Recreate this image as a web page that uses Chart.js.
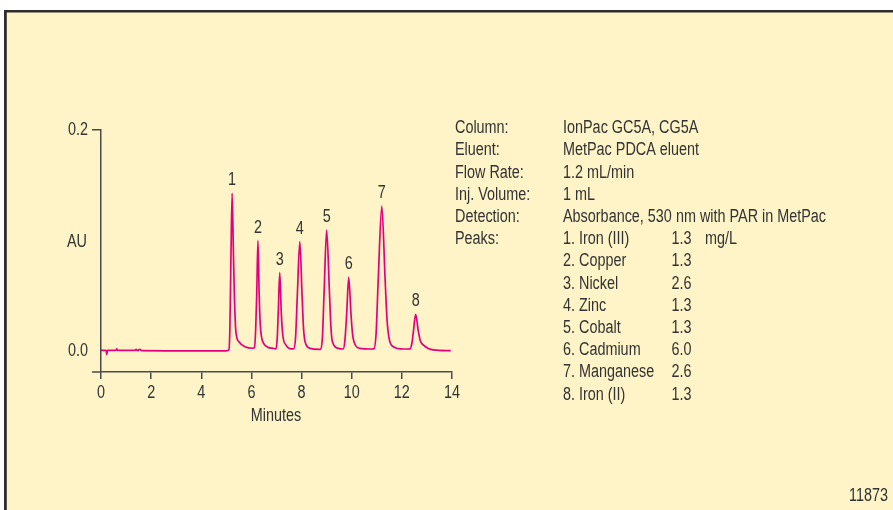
<!DOCTYPE html>
<html>
<head>
<meta charset="utf-8">
<script src="https://cdn.jsdelivr.net/npm/chart.js@4.4.1/dist/chart.umd.min.js"></script>
<style>
  html, body { margin: 0; padding: 0; background: #fff; }
  canvas { display: block; }
</style>
</head>
<body>
<canvas id="chrom" width="893" height="510"></canvas>
<script>
// Trace: time (min) and absorbance (AU)
const traceTime = [
  0.00, 0.20, 0.23, 0.26, 0.60, 0.63, 0.66, 1.35, 1.40, 1.45, 1.55, 1.62, 2.50, 3.50, 4.50, 5.00,
  5.10, 5.14, 5.18, 5.23, 5.28, 5.32, 5.38, 5.50, 5.74, 6.05,
  6.12, 6.17, 6.21, 6.26, 6.31, 6.35, 6.40, 6.50, 6.65, 6.87,
  6.98, 7.03, 7.07, 7.13, 7.19, 7.25, 7.38, 7.60,
  7.68, 7.76, 7.83, 7.93, 8.02, 8.08, 8.14, 8.34, 8.70,
  8.76, 8.83, 8.90, 9.00, 9.11, 9.17, 9.23, 9.47, 9.66,
  9.73, 9.80, 9.88, 9.97, 10.03, 10.09, 10.33, 10.75,
  10.88, 10.97, 11.06, 11.20, 11.33, 11.41, 11.49, 11.66, 12.06,
  12.33, 12.40, 12.46, 12.55, 12.66, 12.74, 12.86, 13.25, 13.95
];
const traceAU = [
  0.0005, 0.0005, -0.003, 0.0005, 0.0005, 0.002, 0.0005, 0.0005, 0.0015, 0.0003, 0.0015, 0.0003, 0.0002, 0.0002, 0.0002, 0.0002,
  0.001, 0.02, 0.08, 0.1427, 0.09, 0.05, 0.0175, 0.0084, 0.0039, 0.0025,
  0.003, 0.02, 0.05, 0.0998, 0.05, 0.025, 0.013, 0.0065, 0.0035, 0.0024,
  0.002, 0.012, 0.035, 0.0709, 0.035, 0.0145, 0.0054, 0.002,
  0.002, 0.012, 0.05, 0.0989, 0.05, 0.02, 0.0084, 0.0024, 0.0015,
  0.0015, 0.012, 0.054, 0.1095, 0.054, 0.022, 0.0084, 0.0024, 0.0018,
  0.01, 0.034, 0.0667, 0.034, 0.016, 0.0084, 0.0024, 0.0018,
  0.002, 0.015, 0.066, 0.1312, 0.066, 0.028, 0.0115, 0.0039, 0.0018,
  0.002, 0.007, 0.0175, 0.0332, 0.0175, 0.009, 0.0054, 0.001, 0.0003
];

// Peak numbers and where their apex sits
const peakNo = ['1', '2', '3', '4', '5', '6', '7', '8'];
const peakTime = [5.23, 6.26, 7.13, 7.93, 9.00, 9.88, 11.20, 12.55];
const peakAU = [0.1427, 0.0998, 0.0709, 0.0989, 0.1095, 0.0667, 0.1312, 0.0332];

const xTicks = [0, 2, 4, 6, 8, 10, 12, 14];
const yTicks = [0, 0.2];
const yTickLabels = ['0.0', '0.2'];

// Conditions block
const condLabels = ['Column:', 'Eluent:', 'Flow Rate:', 'Inj. Volume:', 'Detection:', 'Peaks:'];
const condValues = ['IonPac GC5A, CG5A', 'MetPac PDCA eluent', '1.2 mL/min', '1 mL', 'Absorbance, 530 nm with PAR in MetPac'];
const peakNames = ['1. Iron (III)', '2. Copper', '3. Nickel', '4. Zinc', '5. Cobalt', '6. Cadmium', '7. Manganese', '8. Iron (II)'];
const peakConc = ['1.3', '1.3', '2.6', '1.3', '1.3', '6.0', '2.6', '1.3'];
const concUnit = 'mg/L';
const figureId = '11873';

// no condensed Helvetica here, so squeeze Liberation Sans sideways
const FONT = '18px "Liberation Sans", Arial, sans-serif';
const SQUEEZE = 0.8;
const INK = '#333333';
const AXIS = '#4a4a4a';
const TRACE = '#e4007c';

function txt(c, s, x, y) {
  c.save();
  c.translate(x, y);
  c.scale(SQUEEZE, 1);
  c.fillText(s, 0, 0);
  c.restore();
}

// Paper, frame, tick labels and all the free text
const decor = {
  id: 'decor',
  beforeDraw(chart) {
    const c = chart.ctx;
    c.save();
    c.fillStyle = '#fff';
    c.fillRect(0, 0, chart.width, chart.height);
    c.fillStyle = '#fef4c8';
    c.fillRect(5, 11, chart.width, chart.height);
    c.fillStyle = '#2e2e2e';
    c.fillRect(4, 10, chart.width, 2.5);
    c.fillRect(4, 10, 2.8, chart.height);
    c.restore();
  },
  afterDraw(chart) {
    const c = chart.ctx;
    const x = chart.scales.x, y = chart.scales.y;
    c.save();
    // x axis runs on a bit to the left of the y axis
    c.strokeStyle = AXIS;
    c.lineWidth = 1.5;
    c.beginPath();
    c.moveTo(x.left - 9, y.bottom);
    c.lineTo(x.left, y.bottom);
    c.stroke();

    c.font = FONT;
    c.fillStyle = INK;
    c.textBaseline = 'middle';
    c.textAlign = 'center';
    xTicks.forEach(v => txt(c, String(v), x.getPixelForValue(v), 393));
    peakNo.forEach((n, i) => {
      txt(c, n, x.getPixelForValue(peakTime[i]), y.getPixelForValue(peakAU[i]) - 13);
    });
    txt(c, 'AU', 77, 242);
    txt(c, 'Minutes', 276, 416);

    c.textAlign = 'right';
    yTicks.forEach((v, i) => txt(c, yTickLabels[i], 88, y.getPixelForValue(v)));
    txt(c, figureId, 888, 496);

    c.textAlign = 'left';
    const rowY = i => 128.3 + 22.2 * i;
    condLabels.forEach((t, i) => txt(c, t, 455, rowY(i)));
    condValues.forEach((t, i) => txt(c, t, 563, rowY(i)));
    peakNames.forEach((t, i) => {
      txt(c, t, 563, rowY(5 + i));
      txt(c, peakConc[i], 671.5, rowY(5 + i));
    });
    txt(c, concUnit, 705, rowY(5));
    c.restore();
  }
};

new Chart(document.getElementById('chrom'), {
  type: 'line',
  data: {
    datasets: [{
      data: traceTime.map((t, i) => ({ x: t, y: traceAU[i] })),
      borderColor: TRACE,
      borderWidth: 1.7,
      pointRadius: 0,
      cubicInterpolationMode: 'monotone',
      fill: false
    }]
  },
  options: {
    responsive: false,
    animation: false,
    events: [],
    layout: { padding: { top: 130, right: 441, left: 0, bottom: 0 } },
    plugins: { legend: { display: false }, tooltip: { enabled: false } },
    scales: {
      x: {
        type: 'linear',
        min: 0,
        max: 14,
        afterBuildTicks: s => { s.ticks = xTicks.map(v => ({ value: v })); },
        afterFit: s => { s.height = 138; },
        border: { color: AXIS, width: 1.5 },
        grid: { drawOnChartArea: false, tickLength: 7, color: AXIS, lineWidth: 1.5 },
        ticks: { display: false }
      },
      y: {
        min: -0.019,
        max: 0.2,
        afterBuildTicks: s => { s.ticks = yTicks.map(v => ({ value: v })); },
        afterFit: s => { s.width = 101; },
        border: { color: AXIS, width: 1.5 },
        grid: {
          drawOnChartArea: false,
          tickLength: 9,
          lineWidth: 1.5,
          color: ctx => (ctx.tick && ctx.tick.value === 0) ? 'rgba(0,0,0,0)' : AXIS
        },
        ticks: { display: false }
      }
    }
  },
  plugins: [decor]
});
</script>
</body>
</html>
